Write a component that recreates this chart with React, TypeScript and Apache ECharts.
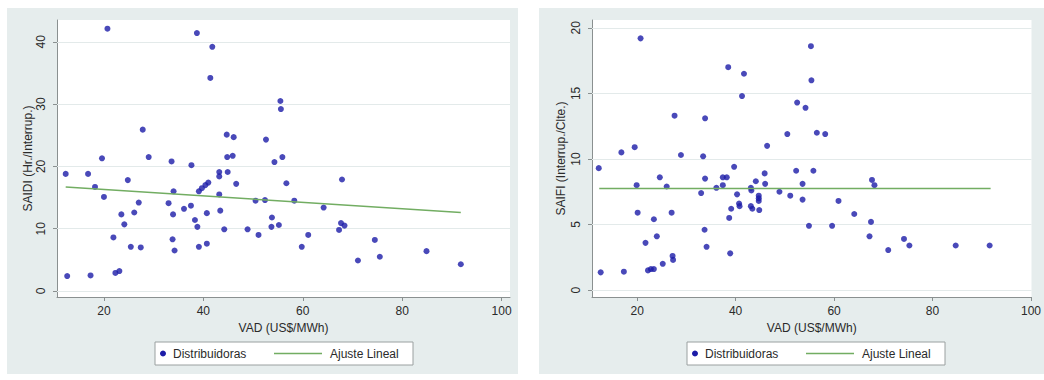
import React, { useEffect, useRef } from "react";
import * as echarts from "echarts";

// ---- Data ----
const vadSaidi = [
  12.6, 12.3, 17.3, 16.8, 18.2, 19.6, 20.0, 20.7, 21.9, 22.3, 23.1, 23.5, 24.1, 24.8, 25.4, 26.1,
  27.0, 27.4, 27.8, 29.0, 33.0, 33.6, 33.8, 33.9, 34.0, 34.2, 36.1, 37.5, 37.6, 38.3, 38.7, 38.8,
  39.1, 39.1, 39.7, 40.4, 41.0, 40.7, 40.7, 41.4, 41.8, 43.2, 43.2, 43.2, 43.4, 44.2, 44.7, 44.8,
  44.9, 45.9, 46.1, 46.6, 48.9, 50.5, 51.1, 52.4, 52.6, 53.7, 53.8, 54.3, 55.2, 55.5, 55.6, 55.9,
  56.7, 58.3, 59.8, 61.1, 64.2, 67.3, 67.7, 67.9, 68.4, 71.1, 74.5, 75.5, 84.9, 91.8,
];
const saidi = [
  2.4, 18.8, 2.5, 18.8, 16.7, 21.3, 15.1, 42.1, 8.6, 2.9, 3.2, 12.3, 10.7, 17.8, 7.1, 12.6,
  14.2, 7.0, 25.9, 21.5, 14.1, 20.8, 8.3, 12.3, 16.0, 6.5, 13.2, 13.7, 20.2, 11.4, 41.4, 10.3,
  7.1, 16.0, 16.5, 17.0, 17.4, 12.5, 7.6, 34.2, 39.2, 19.1, 18.4, 15.5, 12.9, 9.9, 25.1, 21.5,
  19.1, 21.7, 24.7, 17.2, 9.9, 14.5, 9.0, 14.6, 24.3, 10.3, 11.8, 20.7, 10.6, 30.5, 29.2, 21.5,
  17.3, 14.5, 7.1, 9.0, 13.4, 9.8, 10.9, 17.9, 10.5, 4.9, 8.2, 5.5, 6.4, 4.3,
];
const vadSaifi = [
  12.2, 12.6, 16.8, 17.3, 19.5, 19.9, 20.1, 20.7, 21.7, 22.2, 22.8, 23.4, 23.4, 24.0, 24.6, 25.2,
  26.0, 27.0, 27.2, 27.3, 27.6, 28.9, 33.0, 33.4, 33.7, 33.8, 33.8, 34.1, 36.1, 37.4, 37.4, 38.2,
  38.5, 38.7, 38.9, 39.1, 39.7, 40.3, 40.7, 40.8, 41.3, 41.7, 43.1, 43.2, 43.1, 43.4, 44.1, 44.7,
  44.7, 44.7, 44.8, 45.9, 46.0, 46.4, 48.9, 50.5, 51.1, 52.3, 52.5, 53.6, 53.6, 54.2, 54.9, 55.3,
  55.4, 55.8, 56.5, 58.2, 59.6, 60.9, 64.1, 67.2, 67.5, 67.7, 68.2, 71.0, 74.2, 75.3, 84.7, 91.6,
];
const saifi = [
  9.3, 1.35, 10.5, 1.4, 10.9, 8.0, 5.9, 19.2, 3.6, 1.5, 1.6, 1.6, 5.4, 4.1, 8.6, 2.0,
  7.9, 5.9, 2.6, 2.3, 13.3, 10.3, 7.4, 10.2, 4.6, 13.1, 8.5, 3.3, 7.8, 8.6, 8.0, 8.6,
  17.0, 5.5, 2.8, 6.2, 9.4, 7.3, 6.6, 6.4, 14.8, 16.5, 7.8, 7.6, 6.4, 6.2, 8.3, 7.2,
  7.0, 6.8, 6.1, 8.9, 8.1, 11.0, 7.5, 11.9, 7.2, 9.1, 14.3, 8.1, 6.9, 13.9, 4.9, 18.6,
  16.0, 9.1, 12.0, 11.9, 4.9, 6.8, 5.8, 4.1, 5.2, 8.4, 8.0, 3.05, 3.9, 3.4, 3.4, 3.4,
];
const fitSaidiX = [12.3, 91.8];
const fitSaidiY = [16.7, 12.6];
const fitSaifiX = [12.3, 91.8];
const fitSaifiY = [7.75, 7.75];

const xTicks = [20, 40, 60, 80, 100];
const saidiTicks = [0, 10, 20, 30, 40];
const saifiTicks = [0, 5, 10, 15, 20];

const xName = "VAD (US$/MWh)";
const saidiName = "SAIDI (Hr./Interrup.)";
const saifiName = "SAIFI (Interrup./Clte.)";
const scatterName = "Distribuidoras";
const fitName = "Ajuste Lineal";

const FONT = "'Liberation Sans', Arial, sans-serif";
const DOT = "#1c1ca8";
const FIT = "#72ad62";
const AXIS = "#8a9090";
const GRIDLINE = "#e3eaea";
const PANEL = "#e6eded";
const TEXT = "#2a2a2a";

function zip(a: number[], b: number[]) {
  return a.map((v, i) => [v, b[i]]);
}

function xAxisCfg(gridIndex: number, min: number, max: number) {
  return {
    type: "value",
    gridIndex,
    min,
    max,
    name: xName,
    nameLocation: "middle",
    nameGap: 23,
    nameTextStyle: { fontFamily: FONT, fontSize: 12, color: TEXT },
    axisLine: { show: true, onZero: false, lineStyle: { color: AXIS, width: 1 } },
    axisTick: { show: true, customValues: xTicks, length: 4, lineStyle: { color: AXIS } },
    axisLabel: { customValues: xTicks, margin: 8, fontFamily: FONT, fontSize: 12, color: TEXT },
    splitLine: { show: false },
  };
}

function yAxisCfg(gridIndex: number, min: number, max: number, ticks: number[], name: string, gap: number) {
  return {
    type: "value",
    gridIndex,
    min,
    max,
    name,
    nameLocation: "middle",
    nameGap: gap,
    nameRotate: 90,
    nameTextStyle: { fontFamily: FONT, fontSize: 12, color: TEXT },
    axisLine: { show: true, onZero: false, lineStyle: { color: AXIS, width: 1 } },
    axisTick: { show: true, customValues: ticks, length: 4, lineStyle: { color: AXIS } },
    axisLabel: { customValues: ticks, rotate: 90, margin: 10, fontFamily: FONT, fontSize: 12, color: TEXT },
    splitLine: { show: false },
  };
}

function legendGroup(x: number, y: number) {
  const h = 23;
  const cy = h / 2;
  return {
    type: "group",
    x,
    y,
    children: [
      { type: "rect", shape: { x: 0, y: 0, width: 258, height: h }, style: { fill: "#ffffff", stroke: "#9aa0a0", lineWidth: 1 } },
      { type: "circle", shape: { cx: 8, cy, r: 3 }, style: { fill: DOT } },
      { type: "text", x: 18, y: cy, style: { text: scatterName, fill: TEXT, font: `12px ${FONT}`, verticalAlign: "middle", align: "left" } },
      { type: "line", shape: { x1: 119, y1: cy, x2: 167, y2: cy }, style: { stroke: FIT, lineWidth: 1.5 } },
      { type: "text", x: 175, y: cy, style: { text: fitName, fill: TEXT, font: `12px ${FONT}`, verticalAlign: "middle", align: "left" } },
    ],
  };
}

function gridMarkLine(ticks: number[]) {
  return {
    silent: true,
    symbol: "none",
    label: { show: false },
    lineStyle: { color: GRIDLINE, width: 1, type: "solid" },
    data: ticks.map((t) => ({ yAxis: t })),
    z: 1,
  };
}

export default function App() {
  const ref = useRef<HTMLDivElement>(null);
  useEffect(() => {
    if (!ref.current) return;
    const chart = echarts.init(ref.current, undefined, { renderer: "svg" });
    chart.setOption({
      animation: false,
      backgroundColor: "#ffffff",
      textStyle: { fontFamily: FONT },
      graphic: [
        { type: "rect", z: -100, shape: { x: 7, y: 8, width: 511, height: 366 }, style: { fill: PANEL } },
        { type: "rect", z: -100, shape: { x: 539, y: 8, width: 505, height: 366 }, style: { fill: PANEL } },
        legendGroup(155, 342),
        legendGroup(687, 342),
      ],
      grid: [
        { left: 57, top: 20, width: 453, height: 277, show: true, backgroundColor: "#ffffff", borderWidth: 0, containLabel: false },
        { left: 592, top: 20, width: 443, height: 277, show: true, backgroundColor: "#ffffff", borderWidth: 0, containLabel: false },
      ],
      xAxis: [xAxisCfg(0, 10.55, 101.7), xAxisCfg(1, 10.83, 100.1)],
      yAxis: [
        yAxisCfg(0, -0.96, 43.5, saidiTicks, saidiName, 23),
        yAxisCfg(1, -0.53, 20.6, saifiTicks, saifiName, 25),
      ],
      series: [
        {
          name: scatterName,
          type: "scatter",
          xAxisIndex: 0,
          yAxisIndex: 0,
          data: zip(vadSaidi, saidi),
          symbol: "circle",
          symbolSize: 6,
          itemStyle: { color: DOT },
          markLine: gridMarkLine(saidiTicks),
          z: 3,
        },
        {
          name: fitName,
          type: "line",
          xAxisIndex: 0,
          yAxisIndex: 0,
          data: zip(fitSaidiX, fitSaidiY),
          symbol: "none",
          lineStyle: { color: FIT, width: 1.5 },
          z: 4,
        },
        {
          name: scatterName,
          type: "scatter",
          xAxisIndex: 1,
          yAxisIndex: 1,
          data: zip(vadSaifi, saifi),
          symbol: "circle",
          symbolSize: 6,
          itemStyle: { color: DOT },
          markLine: gridMarkLine(saifiTicks),
          z: 3,
        },
        {
          name: fitName,
          type: "line",
          xAxisIndex: 1,
          yAxisIndex: 1,
          data: zip(fitSaifiX, fitSaifiY),
          symbol: "none",
          lineStyle: { color: FIT, width: 1.5 },
          z: 4,
        },
      ],
    });
    return () => chart.dispose();
  }, []);
  return (
    <div
      ref={ref}
      style={{ position: "fixed", left: 0, top: 0, width: 1044, height: 380 }}
    />
  );
}
